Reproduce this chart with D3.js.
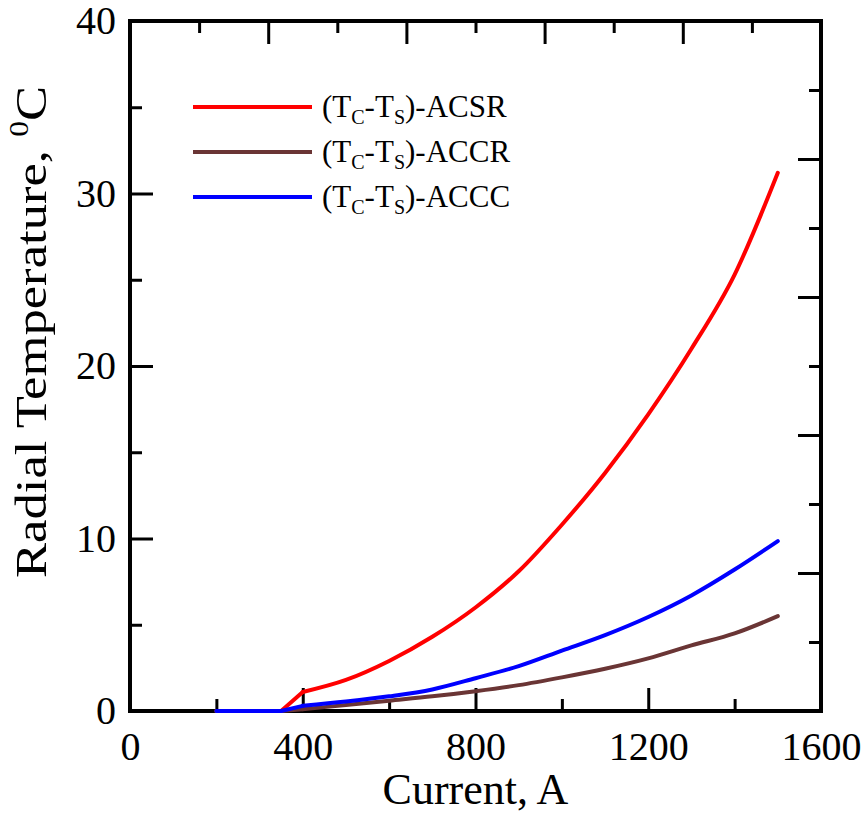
<!DOCTYPE html>
<html>
<head>
<meta charset="utf-8">
<script src="https://cdn.jsdelivr.net/npm/d3@7"></script>
<style>
  body { margin: 0; background: #fff; }
  text { font-family: "Liberation Serif", "Times New Roman", serif; fill: #000; }
</style>
</head>
<body>
<svg id="chart" width="866" height="815" viewBox="0 0 866 815"></svg>
<script>
// current (A) for every series
const current = [200, 350, 400, 500, 600, 700, 800, 900, 1000, 1100, 1200, 1300, 1400, 1500];
// (Tc - Ts) radial temperature, degC
const acsr = [0, 0, 1.1, 1.8, 2.9, 4.3, 6.0, 8.1, 10.8, 13.8, 17.2, 21.0, 25.3, 31.2];
const accr = [0, 0, 0.1, 0.35, 0.6, 0.85, 1.15, 1.5, 1.95, 2.45, 3.05, 3.8, 4.5, 5.5];
const accc = [0, 0, 0.3, 0.55, 0.85, 1.25, 1.9, 2.6, 3.5, 4.4, 5.45, 6.7, 8.2, 9.85];

const seriesNames = ["ACSR", "ACCR", "ACCC"];
const seriesColors = ["#ff0000", "#6a3535", "#0000ff"];

const xTicks = [0, 400, 800, 1200, 1600];
const yTicks = [0, 10, 20, 30, 40];

const margins = { left: 130, right: 45, top: 21, bottom: 104 };
const svgWidth = 866;
const svgHeight = 815;

const x = d3.scaleLinear().domain([0, 1600]).range([margins.left, svgWidth - margins.right]);
const y = d3.scaleLinear().domain([0, 40]).range([svgHeight - margins.bottom, margins.top]);

const svg = d3.select("#chart");

// ---- axes (ticks point inward) ----
const majorLen = 23;
const minorLen = 12;

function styleAxis(g) {
  g.select(".domain").remove();
  g.selectAll("line").attr("stroke", "#000").attr("stroke-width", 3);
}

// bottom
const xAxisG = svg.append("g")
  .attr("transform", `translate(0 ${y(0)})`)
  .call(d3.axisBottom(x).tickValues(xTicks).tickFormat(d3.format("d"))
    .tickSizeInner(-majorLen).tickSizeOuter(0).tickPadding(21))
  .call(styleAxis);
xAxisG.selectAll("text").style("font-size", "40px").attr("font-family", null);
svg.append("g")
  .attr("transform", `translate(0 ${y(0)})`)
  .call(d3.axisBottom(x).tickValues([200, 600, 1000, 1400]).tickSizeInner(-minorLen).tickSizeOuter(0).tickFormat(""))
  .call(styleAxis);

// left
const yAxisG = svg.append("g")
  .attr("transform", `translate(${x(0)} 0)`)
  .call(d3.axisLeft(y).tickValues(yTicks).tickFormat(d3.format("d"))
    .tickSizeInner(-majorLen).tickSizeOuter(0).tickPadding(14))
  .call(styleAxis);
yAxisG.selectAll("text").style("font-size", "40px").attr("font-family", null);
svg.append("g")
  .attr("transform", `translate(${x(0)} 0)`)
  .call(d3.axisLeft(y).tickValues([5, 15, 25, 35]).tickSizeInner(-minorLen).tickSizeOuter(0).tickFormat(""))
  .call(styleAxis);

// top and right: 10 divisions, longer tick every second one
const topTicks = d3.range(1, 10).map((i) => i * 160);
const rightTicks = d3.range(1, 10).map((i) => i * 4);

svg.append("g")
  .attr("transform", `translate(0 ${y(40)})`)
  .call(d3.axisTop(x).tickValues(topTicks).tickSizeOuter(0).tickFormat(""))
  .call(styleAxis)
  .selectAll(".tick line")
  .attr("y2", (d, i) => (i % 2 === 1 ? majorLen : minorLen));

svg.append("g")
  .attr("transform", `translate(${x(1600)} 0)`)
  .call(d3.axisRight(y).tickValues(rightTicks).tickSizeOuter(0).tickFormat(""))
  .call(styleAxis)
  .selectAll(".tick line")
  .attr("x2", (d, i) => (i % 2 === 1 ? -majorLen : -minorLen));

// frame
svg.append("rect")
  .attr("x", x(0))
  .attr("y", y(40))
  .attr("width", x(1600) - x(0))
  .attr("height", y(0) - y(40))
  .attr("fill", "none")
  .attr("stroke", "#000")
  .attr("stroke-width", 4);

// ---- curves ----
// straight up to the kink at 400 A, smooth after it
const kink = 2;
const lineStraight = d3.line().x((d) => x(d[0])).y((d) => y(d[1]));
const lineSmooth = d3.line().x((d) => x(d[0])).y((d) => y(d[1])).curve(d3.curveMonotoneX);

const allSeries = [acsr, accr, accc];
allSeries.forEach((vals, i) => {
  const pts = current.map((c, j) => [c, vals[j]]);
  const g = svg.append("g")
    .attr("fill", "none")
    .attr("stroke", seriesColors[i])
    .attr("stroke-width", 4)
    .attr("stroke-linejoin", "round")
    .attr("stroke-linecap", "round");
  g.append("path").attr("d", lineStraight(pts.slice(0, kink + 1)));
  g.append("path").attr("d", lineSmooth(pts.slice(kink)));
});

// ---- legend ----
const legend = svg.append("g").attr("class", "color-legend");
const legendRows = legend.selectAll("g")
  .data(seriesNames)
  .enter()
  .append("g")
  .attr("transform", (d, i) => `translate(193 ${107 + i * 45})`);

legendRows.append("line")
  .attr("x1", 0)
  .attr("x2", 119)
  .attr("y1", 0)
  .attr("y2", 0)
  .attr("stroke", (d, i) => seriesColors[i])
  .attr("stroke-width", 4);

const legendText = legendRows.append("text")
  .attr("x", 129)
  .attr("y", 10)
  .style("font-size", "31px");
legendText.append("tspan").text("(T");
legendText.append("tspan").text("C").style("font-size", "20px").attr("dy", 7);
legendText.append("tspan").text("-T").attr("dy", -7);
legendText.append("tspan").text("S").style("font-size", "20px").attr("dy", 7);
legendText.append("tspan").text((d) => `)-${d}`).attr("dy", -7);

// ---- axis titles ----
svg.append("text")
  .attr("x", (x(0) + x(1600)) / 2)
  .attr("y", 804)
  .attr("text-anchor", "middle")
  .style("font-size", "44px")
  .text("Current, A");

const yTitle = svg.append("text")
  .attr("transform", "translate(46 578) rotate(-90) scale(1.17 1)")
  .attr("text-anchor", "start")
  .style("font-size", "45px");
yTitle.append("tspan").text("Radial Temperature, ");
yTitle.append("tspan").text("0").style("font-size", "27px").attr("dy", -18);
yTitle.append("tspan").text("C").attr("dy", 18);
</script>
</body>
</html>
